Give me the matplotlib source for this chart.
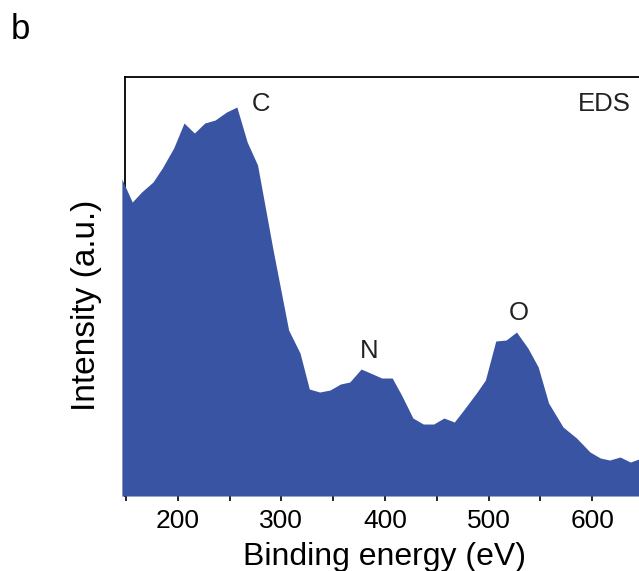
import numpy as np
import matplotlib.pyplot as plt
from matplotlib.ticker import MultipleLocator

plt.rcParams['font.family'] = ['Liberation Sans', 'DejaVu Sans']

# EDS spectrum (eV, arbitrary intensity)
energy = [146, 156, 165, 176, 185, 196, 206, 216, 226, 236, 247, 257, 267,
          277, 292, 307, 318, 327, 337, 347, 357, 366, 377, 386, 397, 407,
          416, 427, 437, 447, 457, 467, 476, 489, 497, 507, 517, 527, 538,
          548, 558, 572, 585, 598, 608, 617, 627, 637, 645]
intensity = [317, 294, 304, 314, 328, 348, 373, 363, 373, 376, 384, 389, 354,
             331, 246, 166, 143, 107, 104, 106, 112, 114, 127, 123, 118, 118,
             101, 78, 72, 72, 78, 74, 86, 104, 116, 155, 156, 164, 148,
             129, 93, 69, 58, 44, 38, 36, 39, 34, 37]

peak_labels = ['C', 'N', 'O']
peak_x = [280, 385, 529]
peak_y = [392, 145, 183]

fig = plt.figure(figsize=(6.39, 5.71), dpi=100)
ax = fig.add_axes([0.1956, 0.1313, 0.812, 0.7338])

# fill sits over the left spine, as in the original
ax.fill_between(energy, intensity, 0, color='#3a54a4', linewidth=0,
                clip_on=False, zorder=3)

ax.set_xlim(149, 650)
ax.set_ylim(0, 419)

ax.spines['bottom'].set_visible(False)
for s in ['top', 'left', 'right']:
    ax.spines[s].set_linewidth(1.3)
    ax.spines[s].set_color('black')

ax.xaxis.set_major_locator(MultipleLocator(100))
ax.xaxis.set_minor_locator(MultipleLocator(50))
ax.tick_params(axis='x', which='both', direction='out', length=3.5, width=1.2,
               labelsize=19, pad=5.5, top=False)
ax.set_yticks([30, 88, 148, 208, 268])
ax.tick_params(axis='y', which='both', direction='in', length=3, width=0.8,
               color='#5a70b4', labelleft=False, right=False)

for lab, x, y in zip(peak_labels, peak_x, peak_y):
    ax.text(x, y, lab, ha='center', va='center', fontsize=18.5,
            color='#222222', zorder=4)
ax.text(637, 392, 'EDS', ha='right', va='center', fontsize=18.5, color='#222222')

ax.set_xlabel('Binding energy (eV)', fontsize=23, labelpad=7)
ax.set_ylabel('Intensity (a.u.)', fontsize=24)
ax.yaxis.set_label_coords(-0.044, 0.456)

fig.text(0.0175, 0.931, 'b', fontsize=25, ha='left', va='baseline')

fig.savefig('out.png', dpi=100)
